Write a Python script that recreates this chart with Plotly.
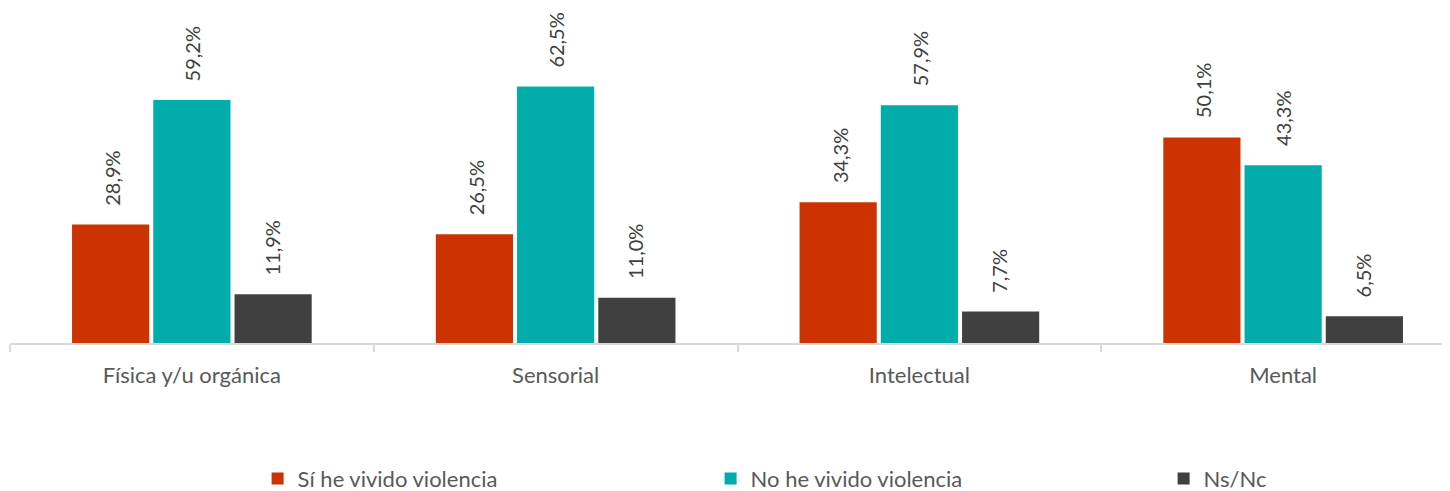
import plotly.graph_objects as go

categories = ["Física y/u orgánica", "Sensorial", "Intelectual", "Mental"]
series_names = ["Sí he vivido violencia", "No he vivido violencia", "Ns/Nc"]
si_vals = [28.9, 26.5, 34.3, 50.1]
no_vals = [59.2, 62.5, 57.9, 43.3]
nsnc_vals = [11.9, 11.0, 7.7, 6.5]

colors = ["#CC3300", "#00ADAB", "#404040"]
all_vals = [si_vals, no_vals, nsnc_vals]
offsets = [-80, 0, 80]
FONT = "Lato"

def fmt(v):
    return f"{v:.1f}".replace(".", ",") + "%"

fig = go.Figure()
for name, vals, col in zip(series_names, all_vals, colors):
    fig.add_trace(go.Bar(
        x=categories, y=vals, name=name,
        marker=dict(color=col, line=dict(width=0)),
    ))

annotations = []
for vals, off in zip(all_vals, offsets):
    for c, v in zip(categories, vals):
        annotations.append(dict(
            x=c, y=v, xref="x", yref="y", text=fmt(v), showarrow=False,
            textangle=-90, xanchor="center", yanchor="bottom",
            xshift=off, yshift=17,
            font=dict(family=FONT, size=20, color="#404040"),
        ))

fig.update_layout(
    width=1450, height=491,
    margin=dict(l=2, r=0, t=12, b=156, autoexpand=False),
    paper_bgcolor="white", plot_bgcolor="white",
    barmode="group", bargap=0.33, bargroupgap=0.05,
    annotations=annotations,
    font=dict(family=FONT, color="#595959"),
    xaxis=dict(
        type="category", range=[-0.5, 3.4807], automargin=False,
        tickson="boundaries", ticks="outside", ticklen=7, tickwidth=1.5,
        tickcolor="#D9D9D9", showline=True, linecolor="#D9D9D9", linewidth=1.5,
        tickfont=dict(family=FONT, size=22, color="#595959"),
        ticklabelstandoff=12, showgrid=False,
    ),
    yaxis=dict(range=[0, 78.7], visible=False, showgrid=False, zeroline=False,
               automargin=False),
    legend=dict(
        orientation="h", x=0.171, xanchor="left", y=-0.42, yanchor="middle",
        font=dict(family=FONT, size=22, color="#595959"),
        entrywidth=408, itemwidth=30,
    ),
    showlegend=True,
)

fig.write_html("out.html")
